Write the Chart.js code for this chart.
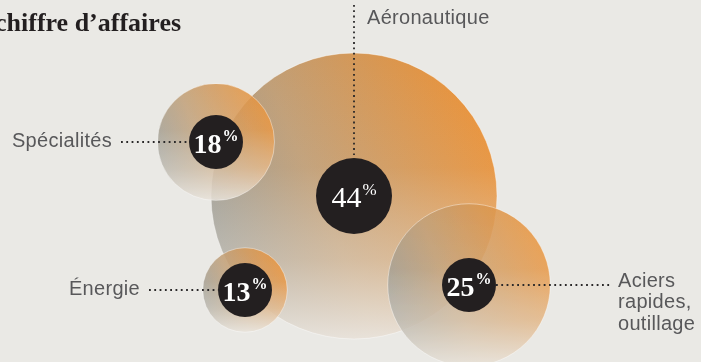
<!DOCTYPE html>
<html>
<head>
<meta charset="utf-8">
<script src="https://cdn.jsdelivr.net/npm/chart.js@4.4.0/dist/chart.umd.min.js"></script>
<style>
  body { margin: 0; background: #eae9e5; }
  #wrap { width: 701px; height: 362px; position: relative; }
</style>
</head>
<body>
<div id="wrap"><canvas id="myChart"></canvas></div>
<script>
// parts du chiffre d'affaires, par marché
const labels = ['Aéronautique', 'Aciers rapides, outillage', 'Spécialités', 'Énergie'];
const shares = [44, 25, 18, 13];
const posX = [354, 469, 216, 245];
const posY = [196, 285, 142, 290];

const BG = '#eae9e5';
const patterns = {};

function circlePattern(chart, i) {
    const cx = chart.scales.x.getPixelForValue(posX[i]);
    const cy = chart.scales.y.getPixelForValue(posY[i]);
    const r = shares[i] * 3.25;
    if (!isFinite(cx) || !isFinite(cy) || !chart.width || !chart.height) return '#d0a070';
    const key = i + ':' + Math.round(cx) + ':' + Math.round(cy);
    if (patterns[key]) return patterns[key];
    const c = document.createElement('canvas');
    c.width = chart.width;
    c.height = chart.height;
    const g = c.getContext('2d');
    const h = g.createLinearGradient(cx - r, cy + r * 0.35, cx + r * 0.9, cy - r * 0.45);
    h.addColorStop(0, 'rgb(148,152,148)');
    h.addColorStop(0.4, 'rgb(192,158,118)');
    h.addColorStop(1, 'rgb(232,146,58)');
    g.fillStyle = h;
    g.fillRect(cx - r, cy - r, 2 * r, 2 * r);
    const v = g.createLinearGradient(0, cy - r, 0, cy + r);
    v.addColorStop(0, 'rgba(236,232,226,0)');
    v.addColorStop(0.4, 'rgba(236,232,226,0.08)');
    v.addColorStop(0.72, 'rgba(236,226,214,0.45)');
    v.addColorStop(1, 'rgba(236,232,226,0.92)');
    g.fillStyle = v;
    g.fillRect(cx - r, cy - r, 2 * r, 2 * r);
    // légère transparence, le bord du grand cercle reste visible
    if (i > 0) {
        g.globalCompositeOperation = 'destination-in';
        g.fillStyle = 'rgba(0,0,0,0.86)';
        g.fillRect(cx - r, cy - r, 2 * r, 2 * r);
    }
    patterns[key] = chart.ctx.createPattern(c, 'no-repeat');
    return patterns[key];
}

function dotted(ctx, x1, y1, x2, y2) {
    ctx.save();
    ctx.strokeStyle = '#2a2829';
    ctx.lineWidth = 1.8;
    ctx.setLineDash([1.8, 3.5]);
    ctx.beginPath();
    ctx.moveTo(x1, y1);
    ctx.lineTo(x2, y2);
    ctx.stroke();
    ctx.restore();
}

const decor = {
    id: 'decor',
    beforeDraw(chart) {
        const ctx = chart.ctx;
        ctx.save();
        ctx.fillStyle = BG;
        ctx.fillRect(0, 0, chart.width, chart.height);
        ctx.restore();
    },
    afterDatasetsDraw(chart) {
        const ctx = chart.ctx;
        const xs = chart.scales.x, ys = chart.scales.y;
        const px = posX.map(v => xs.getPixelForValue(v));
        const py = posY.map(v => ys.getPixelForValue(v));

        // titre (coupé à gauche)
        ctx.save();
        ctx.fillStyle = '#231f20';
        ctx.font = 'bold 26px "Liberation Serif"';
        ctx.textBaseline = 'alphabetic';
        ctx.fillText('chiffre d’affaires', -5, 31);
        ctx.restore();

        // lignes pointillées
        dotted(ctx, px[0], 5, px[0], py[0] - 41);
        dotted(ctx, 121, py[2], px[2] - 27, py[2]);
        dotted(ctx, 149, py[3], px[3] - 27, py[3]);
        dotted(ctx, px[1] + 27, py[1], 610, py[1]);

        // étiquettes
        ctx.save();
        ctx.fillStyle = '#58585a';
        ctx.font = '20px "Liberation Sans"';
        ctx.letterSpacing = '0.3px';
        ctx.textBaseline = 'middle';
        ctx.textAlign = 'left';
        ctx.fillText(labels[0], px[0] + 13, 18);
        ctx.textAlign = 'right';
        ctx.fillText(labels[2], 112, py[2] - 1);
        ctx.fillText(labels[3], 140, py[3] - 1);
        ctx.textAlign = 'left';
        ['Aciers', 'rapides,', 'outillage'].forEach((t, k) => {
            ctx.fillText(t, 618, py[1] - 4 + k * 21.5);
        });
        ctx.restore();

        // pourcentages
        shares.forEach((s, i) => {
            const big = i === 0;
            const num = String(s);
            const numFont = (big ? '' : 'bold ') + (big ? 30 : 28) + 'px "Liberation Serif"';
            const pctFont = (big ? '' : 'bold ') + (big ? 17 : 16) + 'px "Liberation Serif"';
            ctx.save();
            ctx.fillStyle = '#ffffff';
            ctx.textBaseline = 'alphabetic';
            ctx.font = numFont;
            const wn = ctx.measureText(num).width;
            ctx.font = pctFont;
            const wp = ctx.measureText('%').width;
            const x0 = px[i] - (wn + wp + 1) / 2;
            ctx.font = numFont;
            ctx.fillText(num, x0, py[i] + 11);
            ctx.font = pctFont;
            ctx.fillText('%', x0 + wn + 1, py[i] - 1);
            ctx.restore();
        });
    }
};

const ctx = document.getElementById('myChart').getContext('2d');
const myChart = new Chart(ctx, {
    type: 'bubble',
    data: {
        labels: labels,
        datasets: [{
            label: 'centres',
            data: shares.map((s, i) => ({ x: posX[i], y: posY[i] })),
            backgroundColor: '#231f20',
            borderWidth: 0,
            radius: c => shares[c.dataIndex] > 40 ? 38 : 27,
            clip: false
        }, {
            label: 'parts',
            data: shares.map((s, i) => ({ x: posX[i], y: posY[i] })),
            backgroundColor: function(c) {
                if (c.type !== 'data' || !c.chart.scales.x) return '#d0a070';
                return circlePattern(c.chart, c.dataIndex);
            },
            borderColor: 'rgba(255,255,255,0.5)',
            borderWidth: 0.8,
            radius: c => shares[c.dataIndex] * 3.25,
            clip: false
        }]
    },
    options: {
        responsive: true,
        maintainAspectRatio: false,
        animation: false,
        events: [],
        layout: { padding: 0, autoPadding: false },
        plugins: {
            legend: { display: false },
            tooltip: { enabled: false }
        },
        scales: {
            x: { type: 'linear', min: 0, max: 701, display: false },
            y: { type: 'linear', min: 0, max: 362, reverse: true, display: false }
        }
    },
    plugins: [decor]
});
</script>
</body>
</html>
